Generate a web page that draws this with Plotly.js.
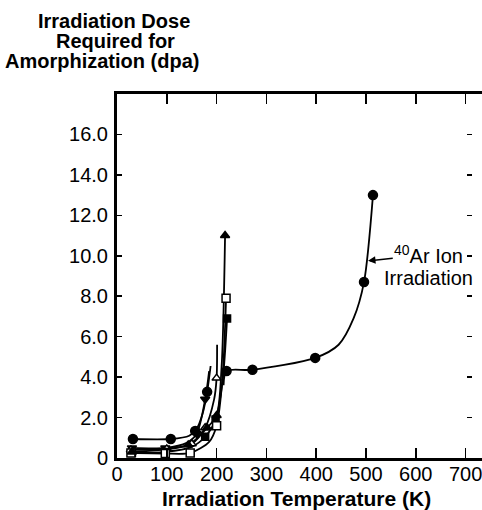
<!DOCTYPE html>
<html><head><meta charset="utf-8">
<script src="https://cdn.plot.ly/plotly-3.0.1.min.js"></script>
<style>html,body{margin:0;padding:0;overflow:hidden;background:#fff;width:482px;height:510px}</style>
</head><body><div id="chart"></div>
<script>
// ---- data ----
const xTicks = [0,100,200,300,400,500,600,700];
const xTickText = ["0","100","200","300","400","500","600","700"];
const yTicks = [0,2,4,6,8,10,12,14,16];
const yTickText = ["0","2.0","4.0","6.0","8.0","10.0","12.0","14.0","16.0"];

// 40Ar ion irradiation
const arT = [220,272,398,496,514];
const arD = [4.3,4.36,4.95,8.7,13.0];
const arCurveT = [214,220,272,398,445,475,496,514];
const arCurveD = [3.6,4.3,4.36,4.95,5.6,6.9,8.7,13.0];

// low-temperature series
const circT = [32,108,157,181];
const circD = [0.94,0.94,1.34,3.27];
const circCurveT = [32,108,145,160,172,181,188];
const circCurveD = [0.94,0.94,1.1,1.45,2.2,3.27,4.55];

const triDnT = [30,97,160,177];
const triDnD = [0.5,0.5,1.2,2.9];
const triDnCurveT = [30,97,140,160,177,185];
const triDnCurveD = [0.5,0.5,0.75,1.2,2.9,4.3];

const oTriT = [28,100,150,177,200];
const oTriD = [0.4,0.45,0.7,1.5,3.95];
const oTriCurveT = [28,100,150,177,195,200,201];
const oTriCurveD = [0.4,0.45,0.7,1.5,2.9,3.95,5.6];

const fSqT = [30,97,177,198,221];
const fSqD = [0.25,0.3,1.05,1.9,6.9];
const fSqCurveT = [30,97,150,177,198,212,221];
const fSqCurveD = [0.25,0.3,0.55,1.05,1.9,3.8,6.9];

const oSqT = [28,97,147,200,219];
const oSqD = [0.25,0.22,0.25,1.6,7.9];
const oSqCurveT = [28,97,147,185,200,212,219];
const oSqCurveD = [0.25,0.22,0.25,0.8,1.6,4.0,7.9];

const fTriT = [30,143,181,200,217];
const fTriD = [0.3,0.65,1.5,2.1,11.0];
const fTriCurveT = [30,143,181,200,210,217];
const fTriCurveD = [0.3,0.65,1.5,2.1,4.5,11.0];

// ---- traces ----
function curve(x,y){return {x:x,y:y,mode:'lines',type:'scatter',line:{color:'#000',width:1.8,shape:'spline',smoothing:0.8},hoverinfo:'skip',showlegend:false};}
function pts(x,y,sym,fill,size){return {x:x,y:y,mode:'markers',type:'scatter',marker:{symbol:sym,color:fill,size:size||8,line:{color:'#000',width:1.5}},showlegend:false};}

const data = [
  curve(arCurveT,arCurveD), curve(circCurveT,circCurveD), curve(triDnCurveT,triDnCurveD),
  curve(oTriCurveT,oTriCurveD), curve(fSqCurveT,fSqCurveD), curve(oSqCurveT,oSqCurveD),
  curve(fTriCurveT,fTriCurveD),
  pts(arT,arD,'circle','#000',9), pts(circT,circD,'circle','#000',9),
  pts(triDnT,triDnD,'triangle-down','#000',8), pts(oTriT,oTriD,'triangle-up','#fff',8),
  pts(fSqT,fSqD,'square','#000',7), pts(oSqT,oSqD,'square','#fff',8),
  pts(fTriT,fTriD,'triangle-up','#000',8),
  {x:[0],y:[0],yaxis:'y2',mode:'markers',marker:{opacity:0},hoverinfo:'skip',showlegend:false}
];

const F = 'Liberation Sans, Arial, sans-serif';
const W = 495-117-5, H = 510-94-52;
function px(x){return (x-117)/W;} function py(y){return (510-52-y)/H;}

const layout = {
  width:495, height:510,
  margin:{l:117,r:5,t:94,b:52},
  paper_bgcolor:'#fff', plot_bgcolor:'#fff',
  font:{family:F,color:'#000'},
  xaxis:{range:[0,749],tickvals:xTicks,ticktext:xTickText,ticks:'inside',ticklen:10,tickwidth:1.5,tickcolor:'#000',
         showline:true,linewidth:3,linecolor:'#000',mirror:'ticks',showgrid:false,zeroline:false,
         tickfont:{family:F,size:20,color:'#000'},ticklabelstandoff:-4},
  yaxis:{range:[0,18],tickvals:yTicks,ticktext:yTickText,ticks:'inside',ticklen:5,tickwidth:1.5,tickcolor:'#000',
         showline:true,linewidth:3,linecolor:'#000',mirror:false,showgrid:false,zeroline:false,
         tickfont:{family:F,size:20,color:'#000'},ticklabelstandoff:2},
  yaxis2:{range:[0,18],overlaying:'y',side:'right',anchor:'free',position:0.952,tickvals:yTicks,ticks:'inside',
          ticklen:5,tickwidth:1.5,tickcolor:'#000',showticklabels:false,showline:false,showgrid:false,zeroline:false},
  annotations:[
    {xref:'x',yref:'y',x:504,y:9.75,ax:626,ay:10.05,axref:'x',ayref:'y',text:'<sup>40</sup>Ar Ion',showarrow:true,
     arrowhead:2,arrowsize:1,arrowwidth:1.5,arrowcolor:'#000',standoff:0,
     font:{family:F,size:20,color:'#000'},xanchor:'center',yanchor:'middle'},
    {xref:'x',yref:'y',x:625,y:8.9,text:'Irradiation',showarrow:false,font:{family:F,size:20,color:'#000'},xanchor:'center',yanchor:'middle'},
    {xref:'paper',yref:'paper',x:px(296),y:py(498),text:'<b>Irradiation Temperature (K)</b>',showarrow:false,xanchor:'center',yanchor:'middle',font:{family:F,size:21,color:'#000'}},
    {xref:'paper',yref:'paper',x:px(114),y:py(21),text:'<b>Irradiation Dose</b>',showarrow:false,xanchor:'center',yanchor:'middle',font:{family:F,size:20,color:'#000'}},
    {xref:'paper',yref:'paper',x:px(115),y:py(41),text:'<b>Required for</b>',showarrow:false,xanchor:'center',yanchor:'middle',font:{family:F,size:20,color:'#000'}},
    {xref:'paper',yref:'paper',x:px(102),y:py(61),text:'<b>Amorphization (dpa)</b>',showarrow:false,xanchor:'center',yanchor:'middle',font:{family:F,size:20,color:'#000'}}
  ]
};
Plotly.newPlot('chart',data,layout,{displayModeBar:false,staticPlot:true});
</script></body></html>
